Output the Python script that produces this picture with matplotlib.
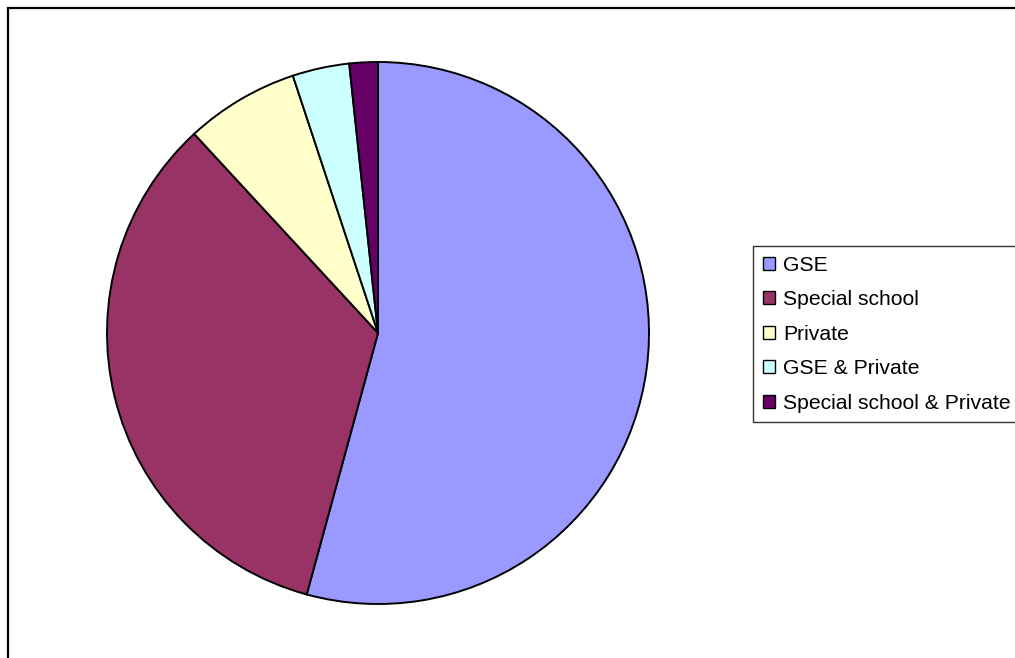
import matplotlib.pyplot as plt
from matplotlib.patches import Rectangle

# school placement counts
labels = ['GSE', 'Special school', 'Private', 'GSE & Private', 'Special school & Private']
counts = [32, 20, 4, 2, 1]
colors = ['#9999FF', '#993366', '#FFFFCC', '#CCFFFF', '#660066']

W, H = 1015, 658
fig = plt.figure(figsize=(W / 100, H / 100), dpi=100)
plt.rcParams['font.family'] = ['Liberation Sans', 'DejaVu Sans']

# chart area border (runs off the right and bottom edges)
fig.patches.append(Rectangle((8 / W, -0.1), 1.2, 1 - 8 / H + 0.1,
                             transform=fig.transFigure, fill=False,
                             edgecolor='black', lw=1.6))

cx, cy, r = 378, 333, 271
ax = fig.add_axes([(cx - r) / W, (H - cy - r) / H, 2 * r / W, 2 * r / H])
wedges, _ = ax.pie(counts, colors=colors, startangle=90, counterclock=False,
                   wedgeprops=dict(edgecolor='black', linewidth=1.4))
ax.set_xlim(-1, 1)
ax.set_ylim(-1, 1)
ax.set_aspect('equal')
ax.axis('off')

leg = fig.legend(wedges, labels, loc='upper left',
                 bbox_to_anchor=(753 / W, 1 - 246 / H),
                 fontsize=15.2, frameon=True, fancybox=False,
                 handlelength=0.57, handleheight=0.57, handletextpad=0.4,
                 labelspacing=0.74, borderpad=0.45, borderaxespad=0)
leg.get_frame().set_edgecolor('black')
leg.get_frame().set_linewidth(1.0)
for h in leg.legend_handles:
    h.set_linewidth(1.0)

fig.savefig('out.png', dpi=100)
